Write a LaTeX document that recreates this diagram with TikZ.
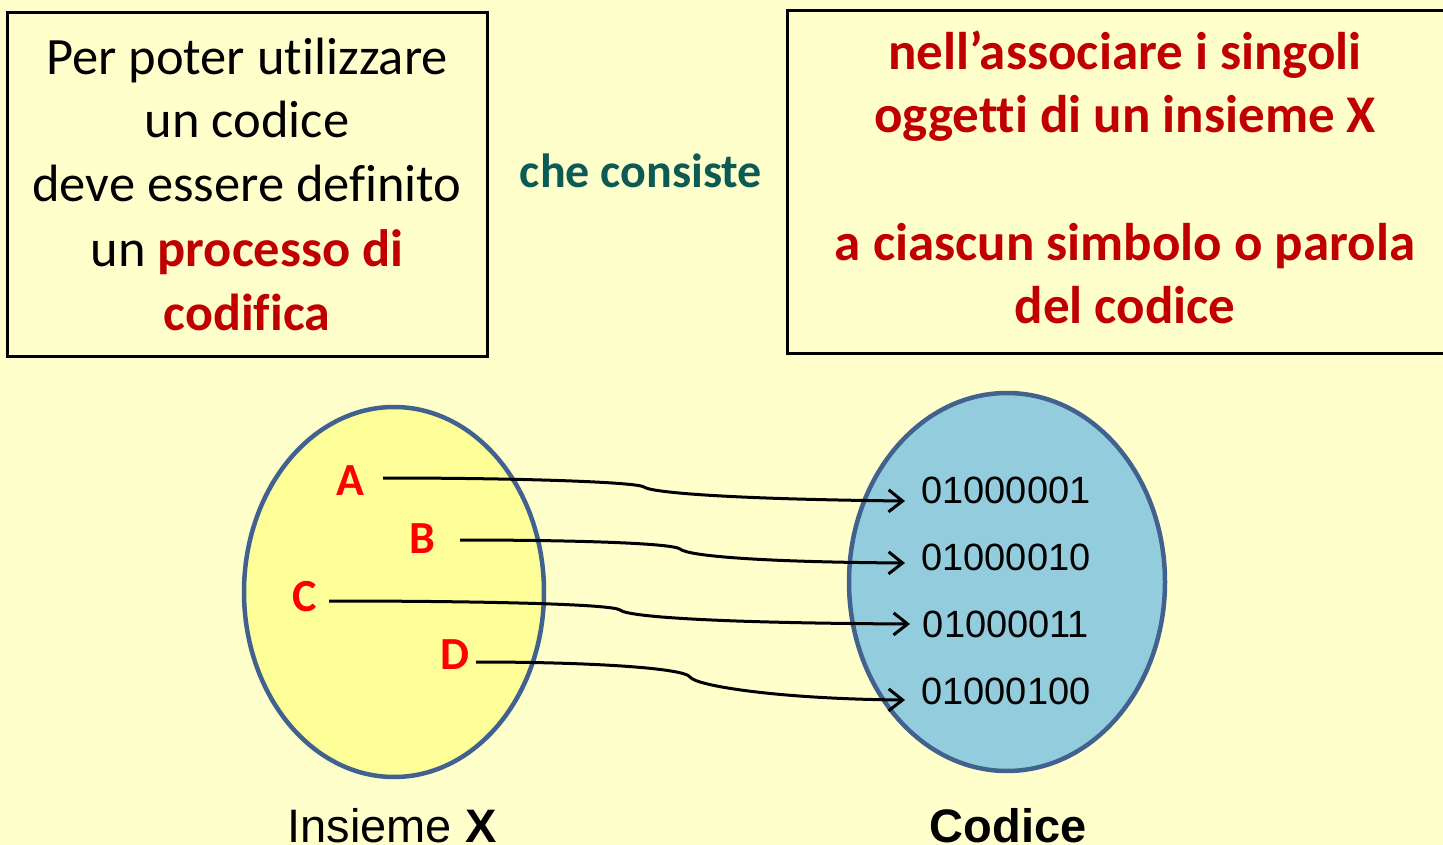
\documentclass[tikz,border=0pt]{standalone}
\usepackage{fontspec}
\setmainfont{Carlito}[RawFeature={-liga;-clig;-dlig;-calt}]
\newfontfamily\arialfont{Liberation Sans}
\usetikzlibrary{arrows.meta}
\definecolor{bgyellow}{HTML}{FFFFCC}
\definecolor{setyellow}{HTML}{FFFF99}
\definecolor{codeblue}{HTML}{93CDDD}
\definecolor{rimblue}{HTML}{41628F}
\definecolor{darkred}{HTML}{C00000}
\definecolor{tealtxt}{HTML}{0B5A54}
\definecolor{letred}{HTML}{FF0000}
\tikzset{
  textbox/.style={draw=black, line width=3pt, fill=bgyellow, inner sep=0pt},
  setshape/.style={line width=4.5pt, draw=rimblue},
  boxline/.style={anchor=base, inner sep=0pt, font=\fontsize{52.5}{62}\selectfont},
  redline/.style={anchor=base, inner sep=0pt, text=darkred, font=\fontsize{53}{60}\selectfont\bfseries},
  letter/.style={anchor=base, inner sep=0pt, text=letred, font=\fontsize{46}{50}\selectfont\bfseries},
  codeword/.style={anchor=base, inner sep=0pt, font=\arialfont\fontsize{38}{42}\selectfont},
  maplink/.style={line width=3pt, -{Straight Barb[length=14pt,width=22pt,line width=3pt]}},
  caption/.style={anchor=base, inner sep=0pt, font=\arialfont\fontsize{47}{52}\selectfont}
}
\begin{document}
\begin{tikzpicture}[x=1pt,y=-1pt]
\useasboundingbox (0,0) rectangle (1443,845);
\fill[bgyellow] (0,0) rectangle (1443,845);

% left box
\draw[textbox] (7,13) rectangle (487,356);
\node[boxline] (l1) at (247,75) {Per poter utilizzare};
\node[boxline] (l2) at (247,138) {un codice};
\node[boxline] (l3) at (247,202) {deve essere definito};
\node[boxline] (l4) at (247,266) {un \textcolor{darkred}{\bfseries processo di}};
\node[boxline, text=darkred, font=\fontsize{52}{62}\selectfont\bfseries] (l5) at (247,330) {codifica};

% middle text
\node[anchor=base, inner sep=0pt, text=tealtxt, font=\fontsize{48}{54}\selectfont\bfseries] (mid) at (641,188) {che consiste};

% right box
\draw[textbox] (787,11) rectangle (1465,353);
\node[redline] (r1) at (1125,70) {nell’associare i singoli};
\node[redline] (r2) at (1125,133) {oggetti di un insieme X};
\node[redline] (r3) at (1125,260) {a ciascun simbolo o parola};
\node[redline] (r4) at (1125,323) {del codice};

% sets
\draw[setshape, fill=setyellow] (394,592) ellipse [x radius=150, y radius=185];
\draw[setshape, fill=codeblue] (1007,582) ellipse [x radius=158, y radius=189];

% letters
\node[letter] (A) at (350,495) {A};
\node[letter] (B) at (422,553) {B};
\node[letter] (C) at (305,611) {C};
\node[letter] (D) at (455,669) {D};

% code words
\node[codeword] (k1) at (1006,503) {01000001};
\node[codeword] (k2) at (1006,570) {01000010};
\node[codeword] (k3) at (1006,637) {01000011};
\node[codeword] (k4) at (1006,704) {01000100};

% anchors for connectors
\coordinate (As) at (383,478);
\coordinate (Bs) at (460,540);
\coordinate (Cs) at (329,601);
\coordinate (Ds) at (476,662);
\coordinate (Ae) at (905,501);
\coordinate (Be) at (905,563);
\coordinate (Ce) at (910,624);
\coordinate (De) at (905,700);

\draw[maplink] (As) .. controls (520,478) and (636,482) .. (644,487)
  .. controls (650,492) and (720,499) .. (Ae);
\draw[maplink] (Bs) .. controls (570,540) and (672,543) .. (680,549)
  .. controls (688,556) and (760,562) .. (Be);
\draw[maplink] (Cs) .. controls (480,601) and (612,604) .. (620,610)
  .. controls (628,617) and (720,623) .. (Ce);
\draw[maplink] (Ds) .. controls (590,662) and (684,668) .. (690,677)
  .. controls (696,686) and (780,699) .. (De);

% captions
\node[caption] (capX) at (392,842) {Insieme \textbf{X}};
\node[caption, font=\arialfont\bfseries\fontsize{47}{52}\selectfont] (capC) at (1008,842) {Codice};
\end{tikzpicture}
\end{document}
